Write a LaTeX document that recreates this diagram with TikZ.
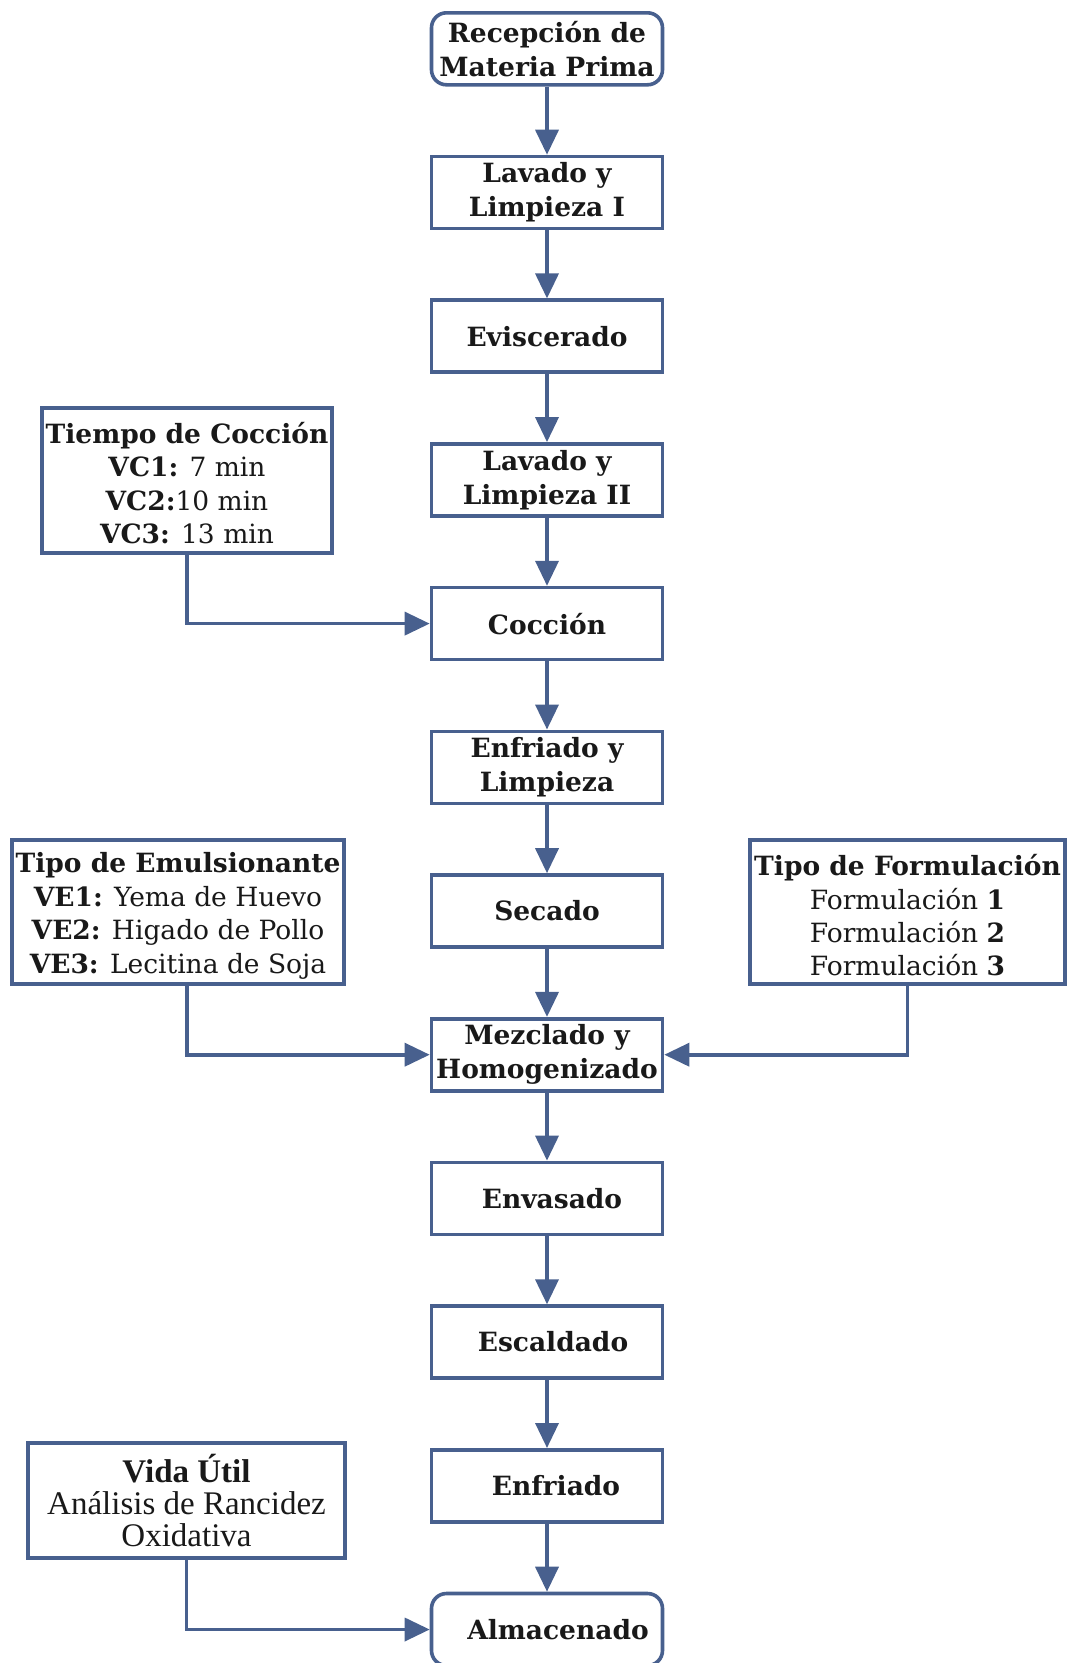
\documentclass[tikz,border=0pt]{standalone}
\usepackage{fontspec}
\setmainfont{DejaVu Serif}
\newfontfamily\noteface{Liberation Serif}
\usetikzlibrary{arrows.meta}

\definecolor{flowblue}{RGB}{72,96,142}
\definecolor{inkblack}{RGB}{25,25,25}

\tikzset{
  base/.style={draw=flowblue, line width=3.6pt, fill=white, text=inkblack,
    align=center, inner sep=0pt, font=\fontsize{26.5}{33.4}\selectfont},
  stepbox/.style={base, minimum width=231pt, minimum height=72pt,
    font=\fontsize{26.5}{34}\selectfont\bfseries},
  endbox/.style={stepbox, rounded corners=15pt},
  infobox/.style={base},
  flow/.style={draw=flowblue, line width=3.6pt,
    -{Triangle[width=23pt,length=25pt]}},
}

\begin{document}
\begin{tikzpicture}[x=1pt,y=-1pt]
\useasboundingbox (0,0) rectangle (1067,1663);

% main process column
\node[endbox]  (recep) at (547,48.8)   {Recepción de\\Materia Prima};
\node[stepbox] (lav1)  at (547,192.5)  {Lavado y\\Limpieza I};
\node[stepbox] (evis)  at (547,336.2)  {Eviscerado};
\node[stepbox] (lav2)  at (547,479.9)  {Lavado y\\Limpieza II};
\node[stepbox] (cocc)  at (547,623.6)  {Cocción};
\node[stepbox] (enfl)  at (547,767.3)  {Enfriado y\\Limpieza};
\node[stepbox] (seca)  at (547,911)    {Secado};
\node[stepbox] (mezc)  at (547,1054.7) {Mezclado y\\Homogenizado};
\node[stepbox] (envs)  at (547,1198.4) {\hspace*{10pt}Envasado};
\node[stepbox] (escd)  at (547,1342.1) {\hspace*{12pt}Escaldado};
\node[stepbox] (enfr)  at (547,1485.8) {\hspace*{18pt}Enfriado};
\node[endbox]  (alma)  at (547,1629.5) {\hspace*{22pt}Almacenado};

% side information boxes
\node[infobox, minimum width=290pt, minimum height=145pt] (tiempo) at (187,480.5)
  {\rule{0pt}{26pt}\textbf{Tiempo de Cocción}\\\textbf{VC1:} 7 min\\\textbf{VC2:}10 min\\\textbf{VC3:} 13 min};
\node[infobox, minimum width=332pt, minimum height=144pt] (emul) at (178,912)
  {\rule{0pt}{28pt}\textbf{Tipo de Emulsionante}\\\textbf{VE1:} Yema de Huevo\\\textbf{VE2:} Higado de Pollo\\\textbf{VE3:} Lecitina de Soja};
\node[infobox, minimum width=315pt, minimum height=144pt] (formu) at (907.5,912)
  {\rule{0pt}{28pt}\textbf{Tipo de Formulación}\\Formulación \textbf{1}\\Formulación \textbf{2}\\Formulación \textbf{3}};
\node[infobox, minimum width=317pt, minimum height=115pt,
      font=\noteface\fontsize{33}{32.3}\selectfont] (vida) at (186.5,1500.5)
  {\textbf{Vida Útil}\\Análisis de Rancidez\\Oxidativa};

% main flow
\draw[flow] (recep) -- (lav1);
\draw[flow] (lav1) -- (evis);
\draw[flow] (evis) -- (lav2);
\draw[flow] (lav2) -- (cocc);
\draw[flow] (cocc) -- (enfl);
\draw[flow] (enfl) -- (seca);
\draw[flow] (seca) -- (mezc);
\draw[flow] (mezc) -- (envs);
\draw[flow] (envs) -- (escd);
\draw[flow] (escd) -- (enfr);
\draw[flow] (enfr) -- (alma);

% inputs from the side boxes
\draw[flow] (tiempo.south) |- (cocc.west);
\draw[flow] ([xshift=9pt]emul.south) |- (mezc.west);
\draw[flow] (formu.south) |- (mezc.east);
\draw[flow] (vida.south) |- (alma.west);
\end{tikzpicture}
\end{document}
